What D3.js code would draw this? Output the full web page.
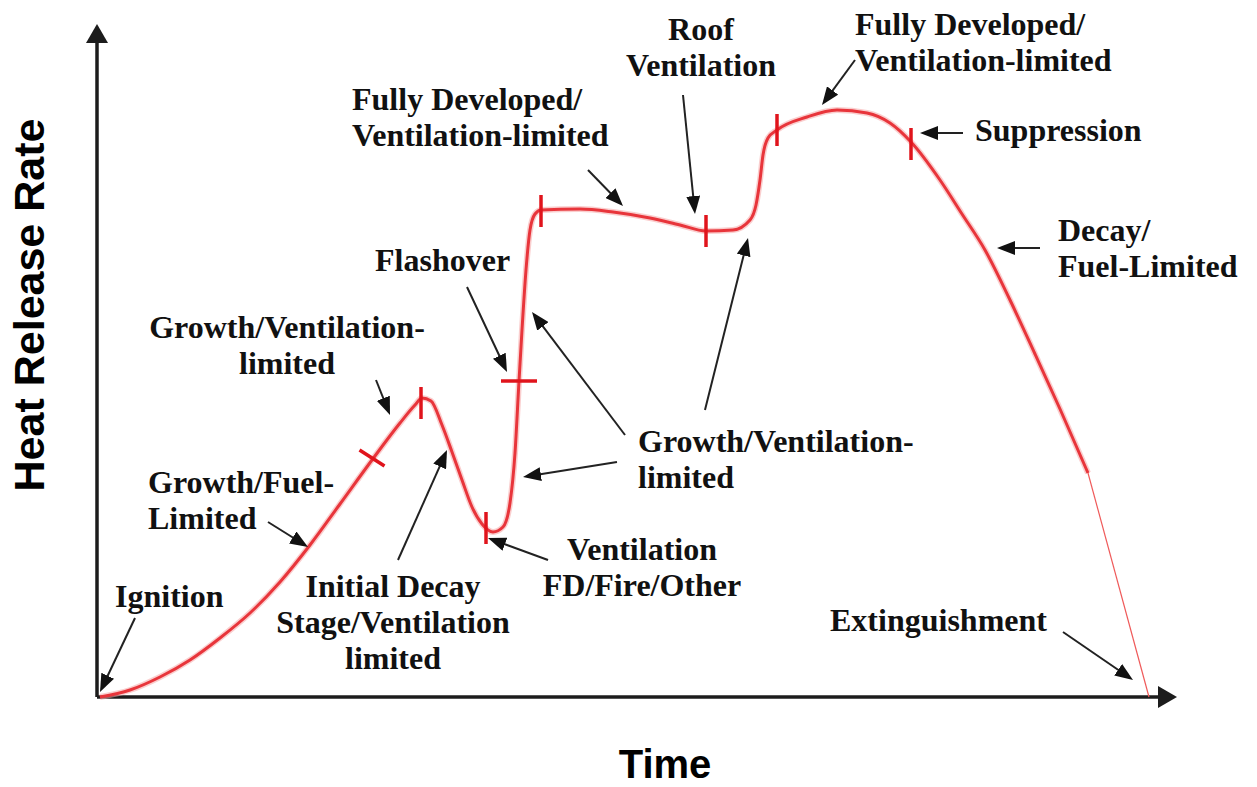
<!DOCTYPE html>
<html>
<head>
<meta charset="utf-8">
<script src="https://cdn.jsdelivr.net/npm/d3@7"></script>
<style>
  body { margin: 0; background: #fff; }
  .note { font-family: 'Liberation Serif', 'Times New Roman', serif; font-weight: bold; font-size: 32px; fill: #111; }
  .axis-title { font-family: 'Liberation Sans', Arial, sans-serif; font-weight: bold; fill: #000; }
</style>
</head>
<body>
<script>
const width = 1257;
const height = 787;

// heat release rate curve, sampled by eye (time, hrr in arbitrary units)
const curveTime = [0, 3, 6, 9, 12, 15, 18, 21, 24, 27.2, 30, 31.5, 32.2, 33.1, 34.2, 35.2, 36.2, 37.2, 38.2, 39.3,
  40.3, 41, 41.5, 41.9, 42.2, 42.6, 43, 43.5, 44.1, 48, 51.3, 55, 58, 60.6, 63.3, 65, 65.6, 66, 66.3,
  66.8, 67.7, 70.7, 73.7, 76.7, 79, 81.1, 84, 86.2, 88.5, 91, 93.5, 96, 98.8];
const curveHrr = [0, 1.4, 4, 7.4, 11.8, 16.8, 23, 30.4, 38.6, 47.4, 54.8, 58.4, 59.8, 59.2, 54.4, 49, 43.4, 38, 34.6, 33,
  34, 38.8, 48.8, 63.2, 73.4, 85.4, 93.4, 96.6, 97.4, 97.6, 97, 95.8, 94.4, 93.2, 93.4, 95.4, 98.4, 103.4, 108.4,
  111.8, 113.4, 116, 117.4, 116.8, 114.8, 111, 103.4, 96.6, 89.4, 79.4, 68.6, 57.6, 44.8];

// thin tail down to extinguishment
const tailTime = [98.8, 104.9];
const tailHrr = [44.8, 0];

// stage boundary marks on the curve
const markTime = [27.2, 32.1, 38.6, 41.9, 44.1, 60.6, 67.7, 81.1];
const markHrr = [47.8, 58.8, 33.8, 63.2, 97.2, 93.2, 113.4, 110.6];
const markDir = ['d', 'v', 'v', 'h', 'v', 'v', 'v', 'v'];

// text notes: lines, anchor point (time, hrr) and alignment
const notes = [
  { lines: ['Roof', 'Ventilation'], t: 60.1, v: 131.4, anchor: 'middle' },
  { lines: ['Fully Developed/', 'Ventilation-limited'], t: 75.5, v: 132.4, anchor: 'start' },
  { lines: ['Suppression'], t: 87.5, v: 111.2, anchor: 'start' },
  { lines: ['Decay/', 'Fuel-Limited'], t: 95.8, v: 91.2, anchor: 'start' },
  { lines: ['Fully Developed/', 'Ventilation-limited'], t: 25.2, v: 117.4, anchor: 'start' },
  { lines: ['Flashover'], t: 27.5, v: 85.2, anchor: 'start' },
  { lines: ['Growth/Ventilation-', 'limited'], t: 18.7, v: 71.8, anchor: 'middle' },
  { lines: ['Growth/Fuel-', 'Limited'], t: 4.8, v: 40.8, anchor: 'start' },
  { lines: ['Ignition'], t: 1.5, v: 18, anchor: 'start' },
  { lines: ['Initial Decay', 'Stage/Ventilation', 'limited'], t: 29.3, v: 20, anchor: 'middle' },
  { lines: ['Growth/Ventilation-', 'limited'], t: 53.8, v: 49, anchor: 'start' },
  { lines: ['Ventilation', 'FD/Fire/Other'], t: 54.2, v: 27.4, anchor: 'middle' },
  { lines: ['Extinguishment'], t: 73, v: 13.2, anchor: 'start' }
];

// pointer arrows: [fromTime, fromHrr, toTime, toHrr]
const arrows = [
  [3.5, 15.8, 0, 1],
  [16.8, 35, 20.8, 30],
  [27.6, 63.4, 29, 56.4],
  [29.8, 27.4, 34.7, 49.4],
  [36.7, 82, 40.7, 65],
  [44.8, 27.4, 38.8, 31.8],
  [52.5, 52.4, 43.2, 77],
  [51.7, 47, 42.3, 44],
  [60.5, 57.4, 64.8, 91.8],
  [48.8, 105.4, 52.3, 98.2],
  [58.3, 120.4, 59.5, 96.6],
  [75.5, 127.4, 72.2, 118.4],
  [86.3, 112.8, 82, 112.8],
  [94, 89.8, 89.7, 89.8],
  [96.3, 13, 103.3, 3.4]
];

const xAxisExtent = [-0.3, 105.8];
const yAxisExtent = [0, 130.8];

const x = d3.scaleLinear().domain([0, 105]).range([100, 1150]);
const y = d3.scaleLinear().domain([0, 120]).range([697, 97]);

const svg = d3.select('body').append('svg')
  .attr('width', width)
  .attr('height', height);

const defs = svg.append('defs');
defs.append('marker')
  .attr('id', 'pointer')
  .attr('viewBox', '0 0 18 14')
  .attr('markerWidth', 18)
  .attr('markerHeight', 14)
  .attr('refX', 10)
  .attr('refY', 7)
  .attr('orient', 'auto')
  .attr('markerUnits', 'userSpaceOnUse')
  .append('path')
  .attr('d', 'M0,0L18,7L0,14Z')
  .attr('fill', '#111');
defs.append('marker')
  .attr('id', 'axisHead')
  .attr('viewBox', '0 0 19 22')
  .attr('markerWidth', 19)
  .attr('markerHeight', 22)
  .attr('refX', 0)
  .attr('refY', 11)
  .attr('orient', 'auto')
  .attr('markerUnits', 'userSpaceOnUse')
  .append('path')
  .attr('d', 'M0,0L19,11L0,22Z')
  .attr('fill', '#1c1c1c');

// axes (no ticks, just arrows)
const xAxisScale = d3.scaleLinear().domain(xAxisExtent).range(xAxisExtent.map(x));
const yAxisScale = d3.scaleLinear().domain(yAxisExtent).range(yAxisExtent.map(y));

const xAxisG = svg.append('g')
  .attr('transform', 'translate(0,' + y(0) + ')')
  .call(d3.axisBottom(xAxisScale).tickValues([]).tickSizeOuter(0));
const yAxisG = svg.append('g')
  .attr('transform', 'translate(' + x(xAxisExtent[0]) + ',0)')
  .call(d3.axisLeft(yAxisScale).tickValues([]).tickSizeOuter(0));

svg.selectAll('.domain')
  .attr('stroke', '#1c1c1c')
  .attr('stroke-width', 3.5)
  .attr('marker-end', 'url(#axisHead)');
// draw domains from the origin outwards so the heads sit at the far ends
yAxisG.select('.domain')
  .attr('d', 'M0,' + yAxisScale(0) + 'V' + yAxisScale(yAxisExtent[1]));
xAxisG.select('.domain')
  .attr('d', 'M' + xAxisScale(xAxisExtent[0]) + ',0H' + xAxisScale(xAxisExtent[1]));

svg.append('text')
  .attr('class', 'axis-title')
  .attr('transform', 'translate(44,' + y(78.4) + ') rotate(-90)')
  .attr('text-anchor', 'middle')
  .style('font-size', '43px')
  .text('Heat Release Rate');

svg.append('text')
  .attr('class', 'axis-title')
  .attr('x', x(56.5))
  .attr('y', 778)
  .attr('text-anchor', 'middle')
  .style('font-size', '40px')
  .text('Time');

// curve
const curveData = curveTime.map((t, i) => [t, curveHrr[i]]);
const tailData = tailTime.map((t, i) => [t, tailHrr[i]]);

const line = d3.line()
  .x(d => x(d[0]))
  .y(d => y(d[1]))
  .curve(d3.curveMonotoneX);

svg.append('path')
  .datum(curveData)
  .attr('d', line)
  .attr('fill', 'none')
  .attr('stroke', '#f6a5a5')
  .attr('stroke-width', 6)
  .attr('stroke-opacity', 0.55);
svg.append('path')
  .datum(curveData)
  .attr('d', line)
  .attr('fill', 'none')
  .attr('stroke', '#e8353b')
  .attr('stroke-width', 3);

svg.append('path')
  .datum(tailData)
  .attr('d', d3.line().x(d => x(d[0])).y(d => y(d[1])))
  .attr('fill', 'none')
  .attr('stroke', '#ef5a5a')
  .attr('stroke-width', 1.2);

// stage marks
const markLen = { v: [0, 16], h: [18, 0], d: [12.5, 8] };
svg.selectAll('.stageMark')
  .data(markTime.map((t, i) => ({ t: t, v: markHrr[i], dir: markDir[i] })))
  .enter()
  .append('line')
  .attr('class', 'stageMark')
  .attr('x1', d => x(d.t) - markLen[d.dir][0])
  .attr('y1', d => y(d.v) - markLen[d.dir][1])
  .attr('x2', d => x(d.t) + markLen[d.dir][0])
  .attr('y2', d => y(d.v) + markLen[d.dir][1])
  .attr('stroke', '#e0141c')
  .attr('stroke-width', 3.5);

// pointer arrows, shortened so the head tip lands on the target
svg.selectAll('.pointer')
  .data(arrows)
  .enter()
  .append('line')
  .attr('class', 'pointer')
  .each(function(d) {
    let x1 = x(d[0]), y1 = y(d[1]), x2 = x(d[2]), y2 = y(d[3]);
    let len = Math.hypot(x2 - x1, y2 - y1);
    let k = (len - 8) / len;
    d3.select(this)
      .attr('x1', x1).attr('y1', y1)
      .attr('x2', x1 + (x2 - x1) * k)
      .attr('y2', y1 + (y2 - y1) * k);
  })
  .attr('stroke', '#222')
  .attr('stroke-width', 2)
  .attr('marker-end', 'url(#pointer)');

// notes
const noteG = svg.selectAll('.note')
  .data(notes)
  .enter()
  .append('text')
  .attr('class', 'note')
  .attr('text-anchor', d => d.anchor)
  .attr('x', d => x(d.t))
  .attr('y', d => y(d.v));

noteG.selectAll('tspan')
  .data(d => d.lines.map(l => ({ text: l, x: x(d.t) })))
  .enter()
  .append('tspan')
  .attr('x', d => d.x)
  .attr('dy', (d, i) => i === 0 ? 0 : 36)
  .text(d => d.text);
</script>
</body>
</html>
